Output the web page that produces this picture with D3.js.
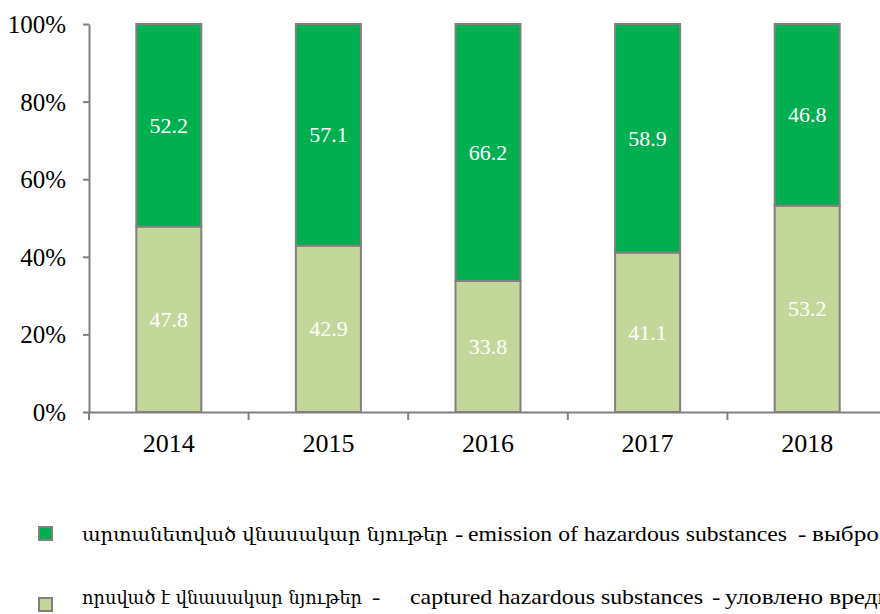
<!DOCTYPE html>
<html><head><meta charset="utf-8">
<script src="https://cdn.jsdelivr.net/npm/d3@7"></script>
<style>body{margin:0;background:#fff;overflow:hidden}svg{display:block}</style>
</head><body>
<script>
const years = ["2014","2015","2016","2017","2018"];
const captured = [47.8, 42.9, 33.8, 41.1, 53.2];
const emission = [52.2, 57.1, 66.2, 58.9, 46.8];
const yTicks = [0, 20, 40, 60, 80, 100];
const legendArmenian = ["արտանետված վնասակար նյութեր", "որսված է վնասակար նյութեր"];
const legendEnglish = ["emission of hazardous substances", "captured hazardous substances"];
const legendRussian = ["выбросы вредных веществ", "уловлено вредных веществ"];
const colors = {emission:"#00B050", captured:"#C4D79B"};

const W = 880, H = 614;
const svg = d3.select("body").append("svg").attr("width", W).attr("height", H);
const x = d3.scaleBand().domain(years).range([89, 887]).paddingInner(0).paddingOuter(0);
const y = d3.scaleLinear().domain([0,100]).range([412, 24]);
const bw = 65;
const font = "'Liberation Serif','Times New Roman',serif";
const grey = "#808080";

// bars
const g = svg.append("g");
years.forEach((yr,i)=>{
  const cx = x(yr) + x.bandwidth()/2;
  const segs = [
    {v0:0, v1:captured[i], c:colors.captured, t:captured[i]},
    {v0:captured[i], v1:100, c:colors.emission, t:emission[i]}
  ];
  segs.forEach(s=>{
    g.append("rect").attr("x", cx-bw/2).attr("width", bw)
      .attr("y", y(s.v1)).attr("height", y(s.v0)-y(s.v1))
      .attr("fill", s.c).attr("stroke",grey).attr("stroke-width",2);
    g.append("text").attr("x", cx).attr("y", (y(s.v0)+y(s.v1))/2)
      .attr("dy","0.34em").attr("text-anchor","middle")
      .attr("fill","#fff").attr("font-family",font).attr("font-size",22)
      .text(s.t.toFixed(1));
  });
});

// y axis
const ya = svg.append("g").attr("transform","translate(89,0)")
  .call(d3.axisLeft(y).tickValues(yTicks).tickFormat(d=>d+"%").tickSize(6).tickSizeOuter(0));
ya.select(".domain").attr("stroke",grey).attr("stroke-width",2);
ya.selectAll(".tick line").attr("stroke",grey).attr("stroke-width",2);
ya.selectAll(".tick text").attr("font-family",font).attr("font-size",25).attr("fill","#000")
  .attr("x",-23).attr("dy","0.34em");

// x axis
const xa = svg.append("g").attr("transform","translate(0,412)")
  .call(d3.axisBottom(x).tickSize(0).tickSizeOuter(0));
xa.select(".domain").attr("stroke",grey).attr("stroke-width",2);
xa.selectAll(".tick text").attr("font-family",font).attr("font-size",26).attr("fill","#000").attr("dy",0).attr("y",40);
// boundary ticks
const bounds = [x(years[0])].concat(years.map(d=>x(d)+x.bandwidth()));
xa.selectAll(".bt").data(bounds).enter().append("line").attr("class","bt")
  .attr("x1",d=>d).attr("x2",d=>d)
  .attr("y1",0).attr("y2",8).attr("stroke",grey).attr("stroke-width",2);

// legend
const lg = svg.append("g");
const rows = [
  {c:colors.emission, my:527, by:541, armLen:366, d1:455, enX:468, enLen:319, d2:798, ruX:812},
  {c:colors.captured, my:598, by:604, armLen:280, d1:372, enX:410, enLen:293, d2:712, ruX:725}
];
const txt = (xp, yp, s, sx) => lg.append("text")
  .attr("transform",`translate(${xp},${yp}) scale(${sx||1},1)`)
  .attr("font-family",font).attr("font-size",21).attr("fill","#000").text(s);
rows.forEach((r,i)=>{
  lg.append("rect").attr("x",39).attr("y",r.my).attr("width",13).attr("height",13)
    .attr("fill",r.c).attr("stroke",grey).attr("stroke-width",2);
  lg.append("text").attr("x",82).attr("y",r.by)
    .attr("font-family","'DejaVu Serif','DejaVu Sans',serif").attr("font-size",19).attr("fill","#000")
    .attr("textLength",r.armLen).attr("lengthAdjust","spacingAndGlyphs")
    .text(legendArmenian[i]);
  txt(r.d1, r.by, "-", 1.2);
  lg.append("text").attr("x",r.enX).attr("y",r.by)
    .attr("font-family",font).attr("font-size",21).attr("fill","#000")
    .attr("textLength",r.enLen).attr("lengthAdjust","spacingAndGlyphs")
    .text(legendEnglish[i]);
  txt(r.d2, r.by, "-", 1.2);
  txt(r.ruX, r.by, legendRussian[i], 1.2);
});
</script>
</body></html>
